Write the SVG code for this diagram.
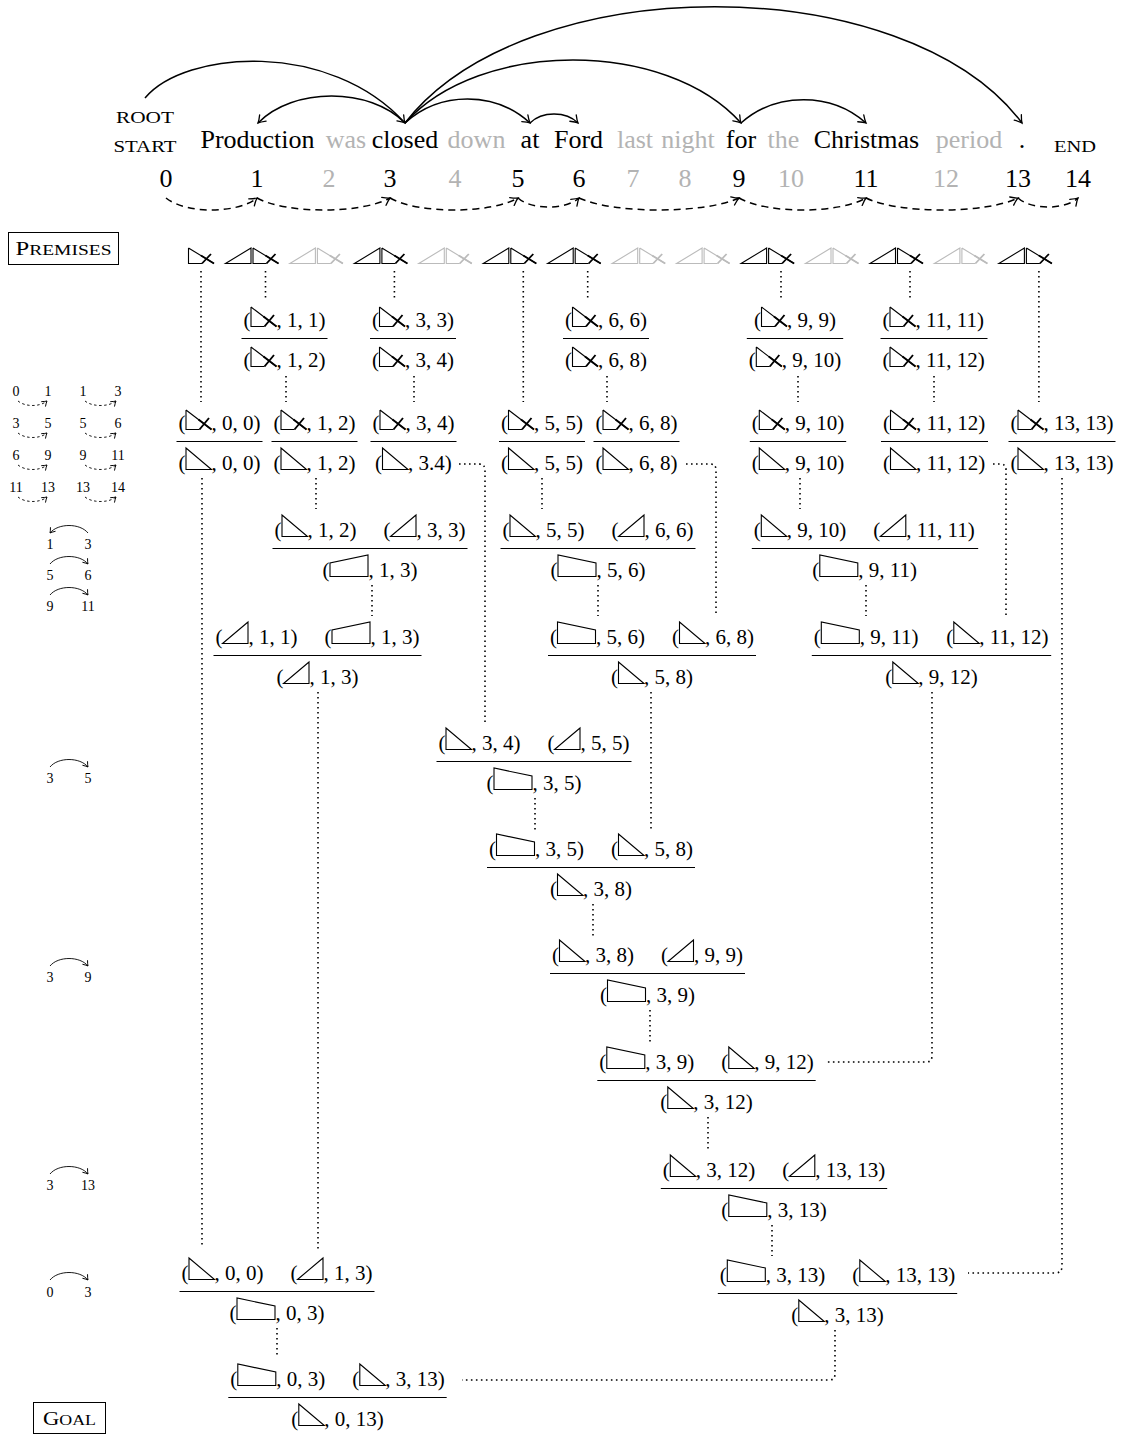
<svg xmlns="http://www.w3.org/2000/svg" width="1122" height="1435" viewBox="0 0 1122 1435" style="color:#000">
<style>
text{font-family:"Liberation Serif","Times New Roman",serif;fill:#000}
.w{font-size:26px;text-anchor:middle}
.g{fill:#b3b3b3}
.sc{font-size:17px;text-anchor:middle}
.f{font-size:21px}
.ln{font-size:14px;text-anchor:middle}
.fl{stroke:#000;stroke-width:1}
.dot{fill:none;stroke:#000;stroke-width:1.6;stroke-dasharray:1.6 3.4}
.arc{fill:none;stroke:#000;stroke-width:1.5}
.dash{fill:none;stroke:#000;stroke-width:1.5;stroke-dasharray:7 5}
.sarc{fill:none;stroke:#000;stroke-width:0.9}
.sdash{fill:none;stroke:#000;stroke-width:0.9;stroke-dasharray:2.5 2.5}
.box{fill:none;stroke:#000;stroke-width:1}
.pg{color:#bbbbbb}
</style>
<defs>
<marker id="ah" viewBox="-10 -6 12 12" refX="0" refY="0" markerWidth="12" markerHeight="12" markerUnits="userSpaceOnUse" orient="auto">
<path d="M-7,-4.5 Q-2.5,-1 0,0 Q-2.5,1 -7,4.5" fill="none" stroke="#000" stroke-width="1.3" stroke-linecap="round"/>
</marker>
<marker id="ahs" viewBox="-6 -4 8 8" refX="0" refY="0" markerWidth="8" markerHeight="8" markerUnits="userSpaceOnUse" orient="auto">
<path d="M-4.5,-3 Q-1.5,-0.6 0,0 Q-1.5,0.6 -4.5,3" fill="none" stroke="#000" stroke-width="0.9" stroke-linecap="round"/>
</marker>
<g id="rt" fill="none" stroke="currentColor" stroke-width="1.1"><path d="M0.5,-22 V-0.5 H26 Z"/></g>
<g id="lt" fill="none" stroke="currentColor" stroke-width="1.1"><path d="M25.5,-22 V-0.5 H0 Z"/></g>
<g id="rx" fill="none" stroke="currentColor" stroke-width="1.1"><path d="M0.5,-20 V-0.5 H14 M0.5,-20 L26,-0.5"/><path d="M14,-0.5 L23.5,-12 M13,-10.4 L26,-0.5" stroke-width="1.9"/></g>
<g id="tl" fill="none" stroke="currentColor" stroke-width="1.1"><path d="M0.5,-22 V-0.5 H38.5 V-14 Z"/></g>
<g id="tr" fill="none" stroke="currentColor" stroke-width="1.1"><path d="M0.5,-14 V-0.5 H38.5 V-22 Z"/></g>
<g id="plt" fill="none" stroke="currentColor" stroke-width="1.1"><path d="M25.5,-16 V-0.5 H0 Z"/></g>
<g id="prx" fill="none" stroke="currentColor" stroke-width="1.1"><path d="M0.5,-16 V-0.5 H14 M0.5,-16 L26,-0.5"/><path d="M14,-0.5 L23,-10 M13,-8.4 L26,-0.5" stroke-width="1.8"/></g>
</defs>

<g id="sentence">
<text class="sc" x="145" y="123" textLength="58" lengthAdjust="spacingAndGlyphs">ROOT</text>
<text class="sc" x="145" y="152" textLength="63" lengthAdjust="spacingAndGlyphs">START</text>
<text class="w" x="257.5" y="148">Production</text>
<text class="w g" x="346" y="148">was</text>
<text class="w" x="405" y="148">closed</text>
<text class="w g" x="476.5" y="148">down</text>
<text class="w" x="530" y="148">at</text>
<text class="w" x="578.5" y="148">Ford</text>
<text class="w g" x="635" y="148">last</text>
<text class="w g" x="688" y="148">night</text>
<text class="w" x="741" y="148">for</text>
<text class="w g" x="783.5" y="148">the</text>
<text class="w" x="866.5" y="148">Christmas</text>
<text class="w g" x="969" y="148">period</text>
<text class="w" x="1022" y="148">.</text>
<text class="sc" x="1075" y="152" textLength="42" lengthAdjust="spacingAndGlyphs">END</text>
</g>

<g id="positions">
<text class="w" x="166" y="187">0</text>
<text class="w" x="257" y="187">1</text>
<text class="w g" x="329" y="187">2</text>
<text class="w" x="390" y="187">3</text>
<text class="w g" x="455" y="187">4</text>
<text class="w" x="518" y="187">5</text>
<text class="w" x="579" y="187">6</text>
<text class="w g" x="633" y="187">7</text>
<text class="w g" x="685" y="187">8</text>
<text class="w" x="739" y="187">9</text>
<text class="w g" x="791" y="187">10</text>
<text class="w" x="866" y="187">11</text>
<text class="w g" x="946" y="187">12</text>
<text class="w" x="1018" y="187">13</text>
<text class="w" x="1078" y="187">14</text>
</g>

<g id="premises-label">
<rect class="box" x="8.5" y="232.5" width="110" height="32"/>
<text x="63.5" y="255" text-anchor="middle" textLength="96" lengthAdjust="spacingAndGlyphs"><tspan font-size="19">P</tspan><tspan font-size="15">REMISES</tspan></text>
</g>
<g id="goal-label">
<rect class="box" x="33.5" y="1402.5" width="72" height="31"/>
<text x="69.5" y="1425" text-anchor="middle" textLength="53" lengthAdjust="spacingAndGlyphs"><tspan font-size="19">G</tspan><tspan font-size="15">OAL</tspan></text>
</g>

<g id="premises">
<use href="#prx" x="188" y="264"/>
<use href="#plt" x="225.5" y="264"/><use href="#prx" x="252.5" y="264"/>
<use class="pg" href="#plt" x="289.9" y="264"/><use class="pg" href="#prx" x="316.9" y="264"/>
<use href="#plt" x="354.4" y="264"/><use href="#prx" x="381.4" y="264"/>
<use class="pg" href="#plt" x="418.8" y="264"/><use class="pg" href="#prx" x="445.8" y="264"/>
<use href="#plt" x="483.3" y="264"/><use href="#prx" x="510.3" y="264"/>
<use href="#plt" x="547.7" y="264"/><use href="#prx" x="574.7" y="264"/>
<use class="pg" href="#plt" x="612.2" y="264"/><use class="pg" href="#prx" x="639.2" y="264"/>
<use class="pg" href="#plt" x="676.6" y="264"/><use class="pg" href="#prx" x="703.6" y="264"/>
<use href="#plt" x="741.1" y="264"/><use href="#prx" x="768.1" y="264"/>
<use class="pg" href="#plt" x="805.5" y="264"/><use class="pg" href="#prx" x="832.5" y="264"/>
<use href="#plt" x="870" y="264"/><use href="#prx" x="897" y="264"/>
<use class="pg" href="#plt" x="934.4" y="264"/><use class="pg" href="#prx" x="961.4" y="264"/>
<use href="#plt" x="998.9" y="264"/><use href="#prx" x="1025.9" y="264"/>
</g>

<g id="legend">
<g class="ln">
<text class="ln" x="16" y="396">0</text><text class="ln" x="48" y="396">1</text><text class="ln" x="83" y="396">1</text><text class="ln" x="118" y="396">3</text>
<text class="ln" x="16" y="428">3</text><text class="ln" x="48" y="428">5</text><text class="ln" x="83" y="428">5</text><text class="ln" x="118" y="428">6</text>
<text class="ln" x="16" y="460">6</text><text class="ln" x="48" y="460">9</text><text class="ln" x="83" y="460">9</text><text class="ln" x="118" y="460">11</text>
<text class="ln" x="16" y="492">11</text><text class="ln" x="48" y="492">13</text><text class="ln" x="83" y="492">13</text><text class="ln" x="118" y="492">14</text>
<text class="ln" x="50" y="549">1</text><text class="ln" x="88" y="549">3</text>
<text class="ln" x="50" y="580">5</text><text class="ln" x="88" y="580">6</text>
<text class="ln" x="50" y="611">9</text><text class="ln" x="88" y="611">11</text>
<text class="ln" x="50" y="783">3</text><text class="ln" x="88" y="783">5</text>
<text class="ln" x="50" y="982">3</text><text class="ln" x="88" y="982">9</text>
<text class="ln" x="50" y="1190">3</text><text class="ln" x="88" y="1190">13</text>
<text class="ln" x="50" y="1297">0</text><text class="ln" x="88" y="1297">3</text>
</g>
<path class="sdash" d="M18,401 C25,407 40,407 47,401" marker-end="url(#ahs)"/>
<path class="sdash" d="M85,401 C92,407 109,407 116,401" marker-end="url(#ahs)"/>
<path class="sdash" d="M18,433 C25,439 40,439 47,433" marker-end="url(#ahs)"/>
<path class="sdash" d="M85,433 C92,439 109,439 116,433" marker-end="url(#ahs)"/>
<path class="sdash" d="M18,465 C25,471 40,471 47,465" marker-end="url(#ahs)"/>
<path class="sdash" d="M85,465 C92,471 109,471 116,465" marker-end="url(#ahs)"/>
<path class="sdash" d="M18,497 C25,503 40,503 47,497" marker-end="url(#ahs)"/>
<path class="sdash" d="M85,497 C92,503 109,503 116,497" marker-end="url(#ahs)"/>
<path class="sarc" d="M88,533 C80,523 58,523 50,533" marker-end="url(#ahs)"/>
<path class="sarc" d="M50,564 C58,554 80,554 88,564" marker-end="url(#ahs)"/>
<path class="sarc" d="M50,595 C58,585 80,585 88,595" marker-end="url(#ahs)"/>
<path class="sarc" d="M50,767 C58,757 80,757 88,767" marker-end="url(#ahs)"/>
<path class="sarc" d="M50,966 C58,956 80,956 88,966" marker-end="url(#ahs)"/>
<path class="sarc" d="M50,1174 C58,1164 80,1164 88,1174" marker-end="url(#ahs)"/>
<path class="sarc" d="M50,1280 C58,1270 80,1270 88,1280" marker-end="url(#ahs)"/>
</g>

<g id="connectors">
<path class="arc" d="M145,98 C185,50 330,40 405,123" marker-end="url(#ah)"/>
<path class="arc" d="M405,123 C370,87 293,87 258,123" marker-end="url(#ah)"/>
<path class="arc" d="M405,123 C440,91 495,91 530,123" marker-end="url(#ah)"/>
<path class="arc" d="M530,123 C542,111 566,111 578,123" marker-end="url(#ah)"/>
<path class="arc" d="M405,123 C480,39 666,39 741,123" marker-end="url(#ah)"/>
<path class="arc" d="M405,123 C525,-32 905,-32 1022,123" marker-end="url(#ah)"/>
<path class="arc" d="M741,123 C776,92 831,92 866,123" marker-end="url(#ah)"/>
<path class="dash" d="M166,198 C186,214 237,214 257,198" marker-end="url(#ah)"/>
<path class="dash" d="M257,198 C286,214 361,214 390,198" marker-end="url(#ah)"/>
<path class="dash" d="M390,198 C418,214 490,214 518,198" marker-end="url(#ah)"/>
<path class="dash" d="M518,198 C531,210 566,210 579,198" marker-end="url(#ah)"/>
<path class="dash" d="M579,198 C614,214 704,214 739,198" marker-end="url(#ah)"/>
<path class="dash" d="M739,198 C767,214 838,214 866,198" marker-end="url(#ah)"/>
<path class="dash" d="M866,198 C899,214 985,214 1018,198" marker-end="url(#ah)"/>
<path class="dash" d="M1018,198 C1031,210 1065,210 1078,198" marker-end="url(#ah)"/>

<path class="dot" d="M265.5,271 V301 M394.4,271 V301 M587.7,271 V301 M781,271 V301 M910,271 V301"/>
<path class="dot" d="M201,271 V402 M523.3,271 V402 M1038.9,271 V402"/>
<path class="dot" d="M286,376 V402 M414,376 V402 M607,376 V402 M798,376 V402 M934,376 V402"/>
<path class="dot" d="M316,478 V509 M542,478 V509 M800,478 V509"/>
<path class="dot" d="M202,478 V1247"/>
<path class="dot" d="M459,464 H479 Q485,464 485,470 V722"/>
<path class="dot" d="M686,464 H710 Q716,464 716,470 V616"/>
<path class="dot" d="M993,464 H1000 Q1006,464 1006,470 V616"/>
<path class="dot" d="M1062,478 V1266 Q1062,1273 1055,1273 H968"/>
<path class="dot" d="M372,585 V616 M598,585 V616 M866,585 V616"/>
<path class="dot" d="M318,692 V1250"/>
<path class="dot" d="M651,692 V830"/>
<path class="dot" d="M932,692 V1056 Q932,1062 926,1062 H826"/>
<path class="dot" d="M535,798 V830 M593,904 V936 M650,1010 V1043 M708,1117 V1151 M772,1225 V1256"/>
<path class="dot" d="M835,1330 V1374 Q835,1380 829,1380 H462"/>
<path class="dot" d="M277,1328 V1358"/>
</g>

<g id="A1" class="f">
<text x="243.5" y="327">(</text><use href="#rx" x="250.5" y="327"/><text x="276.5" y="327">, 1, 1)</text>
<line class="fl" x1="241.5" y1="338.5" x2="327.5" y2="338.5"/>
<text x="243.5" y="367">(</text><use href="#rx" x="250.5" y="367"/><text x="276.5" y="367">, 1, 2)</text>
</g>
<g id="A2" class="f">
<text x="372" y="327">(</text><use href="#rx" x="379" y="327"/><text x="405" y="327">, 3, 3)</text>
<line class="fl" x1="370" y1="338.5" x2="456" y2="338.5"/>
<text x="372" y="367">(</text><use href="#rx" x="379" y="367"/><text x="405" y="367">, 3, 4)</text>
</g>
<g id="A3" class="f">
<text x="565" y="327">(</text><use href="#rx" x="572" y="327"/><text x="598" y="327">, 6, 6)</text>
<line class="fl" x1="563" y1="338.5" x2="649" y2="338.5"/>
<text x="565" y="367">(</text><use href="#rx" x="572" y="367"/><text x="598" y="367">, 6, 8)</text>
</g>
<g id="A4" class="f">
<text x="754" y="327">(</text><use href="#rx" x="761" y="327"/><text x="787" y="327">, 9, 9)</text>
<line class="fl" x1="746.8" y1="338.5" x2="843.2" y2="338.5"/>
<text x="748.8" y="367">(</text><use href="#rx" x="755.8" y="367"/><text x="781.8" y="367">, 9, 10)</text>
</g>
<g id="A5" class="f">
<text x="882.5" y="327">(</text><use href="#rx" x="889.5" y="327"/><text x="915.5" y="327">, 11, 11)</text>
<line class="fl" x1="880.5" y1="338.5" x2="987.5" y2="338.5"/>
<text x="882.5" y="367">(</text><use href="#rx" x="889.5" y="367"/><text x="915.5" y="367">, 11, 12)</text>
</g>

<g id="B1" class="f">
<text x="178.5" y="430">(</text><use href="#rx" x="185.5" y="430"/><text x="211.5" y="430">, 0, 0)</text>
<line class="fl" x1="176.5" y1="441.5" x2="262.5" y2="441.5"/>
<text x="178.5" y="470">(</text><use href="#rt" x="185.5" y="470"/><text x="211.5" y="470">, 0, 0)</text>
</g>
<g id="B2" class="f">
<text x="273.5" y="430">(</text><use href="#rx" x="280.5" y="430"/><text x="306.5" y="430">, 1, 2)</text>
<line class="fl" x1="271.5" y1="441.5" x2="357.5" y2="441.5"/>
<text x="273.5" y="470">(</text><use href="#rt" x="280.5" y="470"/><text x="306.5" y="470">, 1, 2)</text>
</g>
<g id="B3" class="f">
<text x="372.5" y="430">(</text><use href="#rx" x="379.5" y="430"/><text x="405.5" y="430">, 3, 4)</text>
<line class="fl" x1="370.5" y1="441.5" x2="456.5" y2="441.5"/>
<text x="375" y="470">(</text><use href="#rt" x="382" y="470"/><text x="408" y="470">, 3.4)</text>
</g>
<g id="B4" class="f">
<text x="501" y="430">(</text><use href="#rx" x="508" y="430"/><text x="534" y="430">, 5, 5)</text>
<line class="fl" x1="499" y1="441.5" x2="585" y2="441.5"/>
<text x="501" y="470">(</text><use href="#rt" x="508" y="470"/><text x="534" y="470">, 5, 5)</text>
</g>
<g id="B5" class="f">
<text x="595.5" y="430">(</text><use href="#rx" x="602.5" y="430"/><text x="628.5" y="430">, 6, 8)</text>
<line class="fl" x1="593.5" y1="441.5" x2="679.5" y2="441.5"/>
<text x="595.5" y="470">(</text><use href="#rt" x="602.5" y="470"/><text x="628.5" y="470">, 6, 8)</text>
</g>
<g id="B6" class="f">
<text x="751.8" y="430">(</text><use href="#rx" x="758.8" y="430"/><text x="784.8" y="430">, 9, 10)</text>
<line class="fl" x1="749.8" y1="441.5" x2="846.2" y2="441.5"/>
<text x="751.8" y="470">(</text><use href="#rt" x="758.8" y="470"/><text x="784.8" y="470">, 9, 10)</text>
</g>
<g id="B7" class="f">
<text x="883" y="430">(</text><use href="#rx" x="890" y="430"/><text x="916" y="430">, 11, 12)</text>
<line class="fl" x1="881" y1="441.5" x2="988" y2="441.5"/>
<text x="883" y="470">(</text><use href="#rt" x="890" y="470"/><text x="916" y="470">, 11, 12)</text>
</g>
<g id="B8" class="f">
<text x="1010.5" y="430">(</text><use href="#rx" x="1017.5" y="430"/><text x="1043.5" y="430">, 13, 13)</text>
<line class="fl" x1="1008.5" y1="441.5" x2="1115.5" y2="441.5"/>
<text x="1010.5" y="470">(</text><use href="#rt" x="1017.5" y="470"/><text x="1043.5" y="470">, 13, 13)</text>
</g>

<g id="C1" class="f">
<text x="274.5" y="537">(</text><use href="#rt" x="281.5" y="537"/><text x="307.5" y="537">, 1, 2)</text>
<text x="383.5" y="537">(</text><use href="#lt" x="390.5" y="537"/><text x="416.5" y="537">, 3, 3)</text>
<line class="fl" x1="272.5" y1="548.5" x2="467.5" y2="548.5"/>
<text x="322.5" y="577">(</text><use href="#tr" x="329.5" y="577"/><text x="368.5" y="577">, 1, 3)</text>
</g>
<g id="C2" class="f">
<text x="502.5" y="537">(</text><use href="#rt" x="509.5" y="537"/><text x="535.5" y="537">, 5, 5)</text>
<text x="611.5" y="537">(</text><use href="#lt" x="618.5" y="537"/><text x="644.5" y="537">, 6, 6)</text>
<line class="fl" x1="500.5" y1="548.5" x2="695.5" y2="548.5"/>
<text x="550.5" y="577">(</text><use href="#tl" x="557.5" y="577"/><text x="596.5" y="577">, 5, 6)</text>
</g>
<g id="C3" class="f">
<text x="753.8" y="537">(</text><use href="#rt" x="760.8" y="537"/><text x="786.8" y="537">, 9, 10)</text>
<text x="873.3" y="537">(</text><use href="#lt" x="880.3" y="537"/><text x="906.3" y="537">, 11, 11)</text>
<line class="fl" x1="751.8" y1="548.5" x2="978.2" y2="548.5"/>
<text x="812.3" y="577">(</text><use href="#tl" x="819.3" y="577"/><text x="858.3" y="577">, 9, 11)</text>
</g>

<g id="D1" class="f">
<text x="215.5" y="644">(</text><use href="#lt" x="222.5" y="644"/><text x="248.5" y="644">, 1, 1)</text>
<text x="324.5" y="644">(</text><use href="#tr" x="331.5" y="644"/><text x="370.5" y="644">, 1, 3)</text>
<line class="fl" x1="213.5" y1="655.5" x2="421.5" y2="655.5"/>
<text x="276.5" y="684">(</text><use href="#lt" x="283.5" y="684"/><text x="309.5" y="684">, 1, 3)</text>
</g>
<g id="D2" class="f">
<text x="550" y="644">(</text><use href="#tl" x="557" y="644"/><text x="596" y="644">, 5, 6)</text>
<text x="672" y="644">(</text><use href="#rt" x="679" y="644"/><text x="705" y="644">, 6, 8)</text>
<line class="fl" x1="548" y1="655.5" x2="756" y2="655.5"/>
<text x="611" y="684">(</text><use href="#rt" x="618" y="684"/><text x="644" y="684">, 5, 8)</text>
</g>
<g id="D3" class="f">
<text x="813.8" y="644">(</text><use href="#tl" x="820.8" y="644"/><text x="859.8" y="644">, 9, 11)</text>
<text x="946.3" y="644">(</text><use href="#rt" x="953.3" y="644"/><text x="979.3" y="644">, 11, 12)</text>
<line class="fl" x1="811.8" y1="655.5" x2="1051.2" y2="655.5"/>
<text x="885.3" y="684">(</text><use href="#rt" x="892.3" y="684"/><text x="918.3" y="684">, 9, 12)</text>
</g>

<g id="E1" class="f">
<text x="438.5" y="750">(</text><use href="#rt" x="445.5" y="750"/><text x="471.5" y="750">, 3, 4)</text>
<text x="547.5" y="750">(</text><use href="#lt" x="554.5" y="750"/><text x="580.5" y="750">, 5, 5)</text>
<line class="fl" x1="436.5" y1="761.5" x2="631.5" y2="761.5"/>
<text x="486.5" y="790">(</text><use href="#tl" x="493.5" y="790"/><text x="532.5" y="790">, 3, 5)</text>
</g>

<g id="F1" class="f">
<text x="489" y="856">(</text><use href="#tl" x="496" y="856"/><text x="535" y="856">, 3, 5)</text>
<text x="611" y="856">(</text><use href="#rt" x="618" y="856"/><text x="644" y="856">, 5, 8)</text>
<line class="fl" x1="487" y1="867.5" x2="695" y2="867.5"/>
<text x="550" y="896">(</text><use href="#rt" x="557" y="896"/><text x="583" y="896">, 3, 8)</text>
</g>

<g id="G1" class="f">
<text x="552" y="962">(</text><use href="#rt" x="559" y="962"/><text x="585" y="962">, 3, 8)</text>
<text x="661" y="962">(</text><use href="#lt" x="668" y="962"/><text x="694" y="962">, 9, 9)</text>
<line class="fl" x1="550" y1="973.5" x2="745" y2="973.5"/>
<text x="600" y="1002">(</text><use href="#tl" x="607" y="1002"/><text x="646" y="1002">, 3, 9)</text>
</g>

<g id="H1" class="f">
<text x="599.3" y="1069">(</text><use href="#tl" x="606.3" y="1069"/><text x="645.3" y="1069">, 3, 9)</text>
<text x="721.3" y="1069">(</text><use href="#rt" x="728.3" y="1069"/><text x="754.3" y="1069">, 9, 12)</text>
<line class="fl" x1="597.3" y1="1080.5" x2="815.7" y2="1080.5"/>
<text x="660.3" y="1109">(</text><use href="#rt" x="667.3" y="1109"/><text x="693.3" y="1109">, 3, 12)</text>
</g>

<g id="I1" class="f">
<text x="662.8" y="1177">(</text><use href="#rt" x="669.8" y="1177"/><text x="695.8" y="1177">, 3, 12)</text>
<text x="782.3" y="1177">(</text><use href="#lt" x="789.3" y="1177"/><text x="815.3" y="1177">, 13, 13)</text>
<line class="fl" x1="660.8" y1="1188.5" x2="887.2" y2="1188.5"/>
<text x="721.3" y="1217">(</text><use href="#tl" x="728.3" y="1217"/><text x="767.3" y="1217">, 3, 13)</text>
</g>

<g id="J1" class="f">
<text x="719.8" y="1282">(</text><use href="#tl" x="726.8" y="1282"/><text x="765.8" y="1282">, 3, 13)</text>
<text x="852.3" y="1282">(</text><use href="#rt" x="859.3" y="1282"/><text x="885.3" y="1282">, 13, 13)</text>
<line class="fl" x1="717.8" y1="1293.5" x2="957.2" y2="1293.5"/>
<text x="791.3" y="1322">(</text><use href="#rt" x="798.3" y="1322"/><text x="824.3" y="1322">, 3, 13)</text>
</g>

<g id="K1" class="f">
<text x="181.5" y="1280">(</text><use href="#rt" x="188.5" y="1280"/><text x="214.5" y="1280">, 0, 0)</text>
<text x="290.5" y="1280">(</text><use href="#lt" x="297.5" y="1280"/><text x="323.5" y="1280">, 1, 3)</text>
<line class="fl" x1="179.5" y1="1291.5" x2="374.5" y2="1291.5"/>
<text x="229.5" y="1320">(</text><use href="#tl" x="236.5" y="1320"/><text x="275.5" y="1320">, 0, 3)</text>
</g>

<g id="K2" class="f">
<text x="230.3" y="1386">(</text><use href="#tl" x="237.3" y="1386"/><text x="276.3" y="1386">, 0, 3)</text>
<text x="352.3" y="1386">(</text><use href="#rt" x="359.3" y="1386"/><text x="385.3" y="1386">, 3, 13)</text>
<line class="fl" x1="228.3" y1="1397.5" x2="446.7" y2="1397.5"/>
<text x="291.3" y="1426">(</text><use href="#rt" x="298.3" y="1426"/><text x="324.3" y="1426">, 0, 13)</text>
</g>
</svg>
